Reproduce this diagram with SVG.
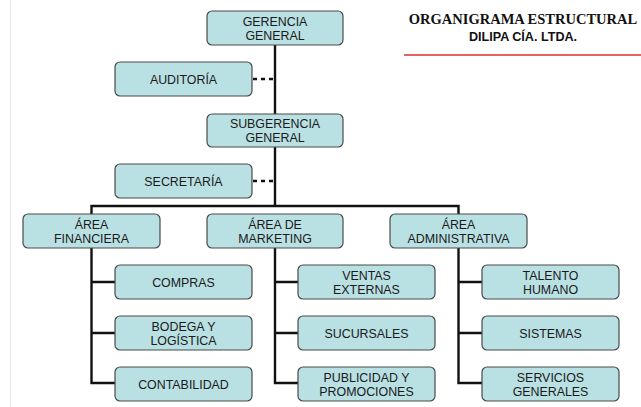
<svg xmlns="http://www.w3.org/2000/svg" width="641" height="407" viewBox="0 0 641 407">
<style>
.box{fill:#b9e0e3;stroke:#4a4a4a;stroke-width:1.2}
.t{font-family:"Liberation Sans",Arial,sans-serif;font-size:12.4px;fill:#1a1a1a;text-anchor:middle}
.ln{stroke:#111;stroke-width:2.4;fill:none}
.dash{stroke:#111;stroke-width:2.4;stroke-dasharray:4 4;fill:none}
</style>
<rect width="641" height="407" fill="#fff"/>
<line x1="10.5" y1="0" x2="10.5" y2="407" stroke="#e4e4e4" stroke-width="1"/>
<g id="title">
<text x="523" y="24" font-family="'Liberation Serif','Times New Roman',serif" font-weight="bold" font-size="14.5" text-anchor="middle" fill="#111">ORGANIGRAMA ESTRUCTURAL</text>
<text x="523" y="41" font-family="'Liberation Sans',Arial,sans-serif" font-weight="bold" font-size="12.6" text-anchor="middle" fill="#111">DILIPA CÍA. LTDA.</text>
<line x1="404" y1="55" x2="641" y2="55" stroke="#e06464" stroke-width="2"/>
</g>
<g id="connectors">
<path class="ln" d="M275 45V114M275 147V206M91.5 214V206H458.5V214"/>
<path class="dash" d="M253 79H273M253 181H273"/>
<path class="ln" d="M91.5 248V383H115M91.5 282H115M91.5 333H115"/>
<path class="ln" d="M275 248V383H298M275 282H298M275 333H298"/>
<path class="ln" d="M458.5 248V383H482M458.5 282H482M458.5 333H482"/>
</g>
<g id="gerencia"><rect class="box" x="207" y="11" width="136" height="34" rx="5"/><text class="t" x="275" y="26">GERENCIA</text><text class="t" x="275" y="39.5">GENERAL</text></g>
<g id="auditoria"><rect class="box" x="115" y="62" width="137" height="34" rx="5"/><text class="t" x="183.5" y="83.5">AUDITORÍA</text></g>
<g id="subgerencia"><rect class="box" x="207" y="114" width="136" height="33" rx="5"/><text class="t" x="275" y="128">SUBGERENCIA</text><text class="t" x="275" y="141.5">GENERAL</text></g>
<g id="secretaria"><rect class="box" x="115" y="164" width="137" height="34" rx="5"/><text class="t" x="183.5" y="185.5">SECRETARÍA</text></g>
<g id="financiera"><rect class="box" x="23" y="214" width="137" height="34" rx="5"/><text class="t" x="91.5" y="229">ÁREA</text><text class="t" x="91.5" y="242.5">FINANCIERA</text></g>
<g id="marketing"><rect class="box" x="207" y="214" width="136" height="34" rx="5"/><text class="t" x="275" y="229">ÁREA DE</text><text class="t" x="275" y="242.5">MARKETING</text></g>
<g id="administrativa"><rect class="box" x="390" y="214" width="137" height="34" rx="5"/><text class="t" x="458.5" y="229">ÁREA</text><text class="t" x="458.5" y="242.5">ADMINISTRATIVA</text></g>
<g id="compras"><rect class="box" x="115" y="265" width="137" height="34" rx="5"/><text class="t" x="183.5" y="286.5">COMPRAS</text></g>
<g id="bodega"><rect class="box" x="115" y="316" width="137" height="34" rx="5"/><text class="t" x="183.5" y="331">BODEGA Y</text><text class="t" x="183.5" y="344.5">LOGÍSTICA</text></g>
<g id="contabilidad"><rect class="box" x="115" y="367" width="137" height="34" rx="5"/><text class="t" x="183.5" y="388.5">CONTABILIDAD</text></g>
<g id="ventas"><rect class="box" x="298" y="265" width="137" height="34" rx="5"/><text class="t" x="366.5" y="280">VENTAS</text><text class="t" x="366.5" y="293.5">EXTERNAS</text></g>
<g id="sucursales"><rect class="box" x="298" y="316" width="137" height="34" rx="5"/><text class="t" x="366.5" y="337.5">SUCURSALES</text></g>
<g id="publicidad"><rect class="box" x="298" y="367" width="137" height="34" rx="5"/><text class="t" x="366.5" y="382">PUBLICIDAD Y</text><text class="t" x="366.5" y="395.5">PROMOCIONES</text></g>
<g id="talento"><rect class="box" x="482" y="265" width="137" height="34" rx="5"/><text class="t" x="550.5" y="280">TALENTO</text><text class="t" x="550.5" y="293.5">HUMANO</text></g>
<g id="sistemas"><rect class="box" x="482" y="316" width="137" height="34" rx="5"/><text class="t" x="550.5" y="337.5">SISTEMAS</text></g>
<g id="servicios"><rect class="box" x="482" y="367" width="137" height="34" rx="5"/><text class="t" x="550.5" y="382">SERVICIOS</text><text class="t" x="550.5" y="395.5">GENERALES</text></g>
</svg>
